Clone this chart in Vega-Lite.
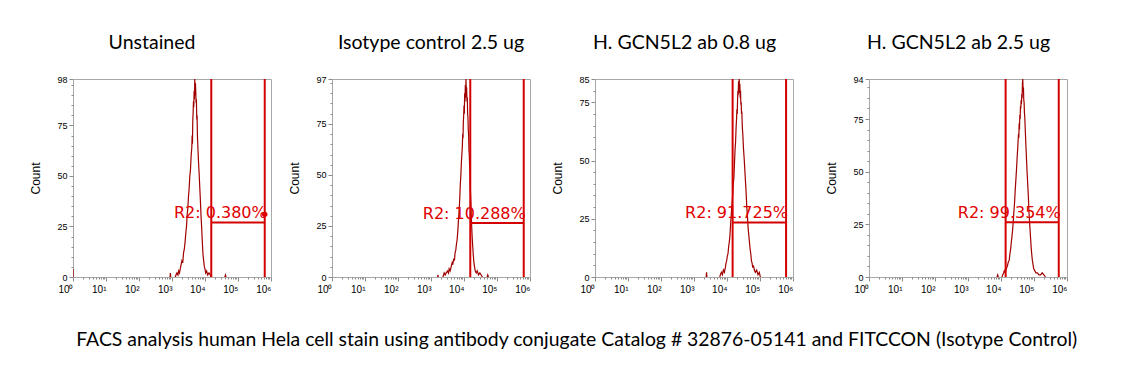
{
"$schema": "https://vega.github.io/schema/vega-lite/v6.json",
"background": "white",
"padding": {"left": 29, "top": 32, "right": 5, "bottom": 5},
"title": {"text": "FACS analysis human Hela cell stain using antibody conjugate Catalog # 32876-05141 and FITCCON (Isotype Control)", "orient": "bottom", "anchor": "middle", "font": "Lato", "fontSize": 19.4, "fontWeight": "normal", "color": "#000", "offset": 36, "dx": 28},
"datasets": {
"hist": [
{"panel":"U","seg":1,"log_fl":0,"count":0},{"panel":"U","seg":1,"log_fl":0.002,"count":4},
{"panel":"U","seg":2,"log_fl":2.94,"count":0},{"panel":"U","seg":2,"log_fl":2.95,"count":2},{"panel":"U","seg":2,"log_fl":2.96,"count":0},
{"panel":"U","seg":3,"log_fl":3.10,"count":0},{"panel":"U","seg":3,"log_fl":3.12,"count":1},{"panel":"U","seg":3,"log_fl":3.15,"count":2},{"panel":"U","seg":3,"log_fl":3.18,"count":1},{"panel":"U","seg":3,"log_fl":3.20,"count":3},{"panel":"U","seg":3,"log_fl":3.225,"count":2},{"panel":"U","seg":3,"log_fl":3.25,"count":4},{"panel":"U","seg":3,"log_fl":3.275,"count":6},{"panel":"U","seg":3,"log_fl":3.30,"count":8},{"panel":"U","seg":3,"log_fl":3.325,"count":7},{"panel":"U","seg":3,"log_fl":3.35,"count":12},{"panel":"U","seg":3,"log_fl":3.375,"count":14},{"panel":"U","seg":3,"log_fl":3.40,"count":18},{"panel":"U","seg":3,"log_fl":3.42,"count":22},{"panel":"U","seg":3,"log_fl":3.44,"count":25},{"panel":"U","seg":3,"log_fl":3.46,"count":31},{"panel":"U","seg":3,"log_fl":3.48,"count":34},{"panel":"U","seg":3,"log_fl":3.50,"count":40},{"panel":"U","seg":3,"log_fl":3.52,"count":44},{"panel":"U","seg":3,"log_fl":3.54,"count":50},{"panel":"U","seg":3,"log_fl":3.56,"count":53},{"panel":"U","seg":3,"log_fl":3.58,"count":60},{"panel":"U","seg":3,"log_fl":3.60,"count":64},{"panel":"U","seg":3,"log_fl":3.61,"count":70},{"panel":"U","seg":3,"log_fl":3.62,"count":66},{"panel":"U","seg":3,"log_fl":3.63,"count":78},{"panel":"U","seg":3,"log_fl":3.64,"count":81},{"panel":"U","seg":3,"log_fl":3.65,"count":87},{"panel":"U","seg":3,"log_fl":3.66,"count":84},{"panel":"U","seg":3,"log_fl":3.67,"count":92},{"panel":"U","seg":3,"log_fl":3.68,"count":88},{"panel":"U","seg":3,"log_fl":3.69,"count":98},{"panel":"U","seg":3,"log_fl":3.70,"count":90},{"panel":"U","seg":3,"log_fl":3.71,"count":96},{"panel":"U","seg":3,"log_fl":3.72,"count":92},{"panel":"U","seg":3,"log_fl":3.73,"count":86},{"panel":"U","seg":3,"log_fl":3.74,"count":88},{"panel":"U","seg":3,"log_fl":3.75,"count":78},{"panel":"U","seg":3,"log_fl":3.76,"count":80},{"panel":"U","seg":3,"log_fl":3.77,"count":70},{"panel":"U","seg":3,"log_fl":3.78,"count":66},{"panel":"U","seg":3,"log_fl":3.79,"count":62},{"panel":"U","seg":3,"log_fl":3.80,"count":58},{"panel":"U","seg":3,"log_fl":3.82,"count":52},{"panel":"U","seg":3,"log_fl":3.84,"count":45},{"panel":"U","seg":3,"log_fl":3.86,"count":38},{"panel":"U","seg":3,"log_fl":3.88,"count":30},{"panel":"U","seg":3,"log_fl":3.90,"count":24},{"panel":"U","seg":3,"log_fl":3.92,"count":17},{"panel":"U","seg":3,"log_fl":3.94,"count":11},{"panel":"U","seg":3,"log_fl":3.96,"count":8},{"panel":"U","seg":3,"log_fl":3.98,"count":5},{"panel":"U","seg":3,"log_fl":4.00,"count":4},{"panel":"U","seg":3,"log_fl":4.02,"count":2},{"panel":"U","seg":3,"log_fl":4.05,"count":3},{"panel":"U","seg":3,"log_fl":4.08,"count":1},{"panel":"U","seg":3,"log_fl":4.12,"count":2},{"panel":"U","seg":3,"log_fl":4.16,"count":1},{"panel":"U","seg":3,"log_fl":4.18,"count":0},
{"panel":"U","seg":4,"log_fl":4.60,"count":0},{"panel":"U","seg":4,"log_fl":4.62,"count":1},{"panel":"U","seg":4,"log_fl":4.64,"count":0},

{"panel":"I","seg":1,"log_fl":3.20,"count":0},{"panel":"I","seg":1,"log_fl":3.21,"count":1},{"panel":"I","seg":1,"log_fl":3.22,"count":0},
{"panel":"I","seg":2,"log_fl":3.36,"count":0},{"panel":"I","seg":2,"log_fl":3.38,"count":1},{"panel":"I","seg":2,"log_fl":3.40,"count":2},{"panel":"I","seg":2,"log_fl":3.43,"count":1},{"panel":"I","seg":2,"log_fl":3.46,"count":2},{"panel":"I","seg":2,"log_fl":3.50,"count":3},{"panel":"I","seg":2,"log_fl":3.53,"count":2},{"panel":"I","seg":2,"log_fl":3.55,"count":4},{"panel":"I","seg":2,"log_fl":3.58,"count":3},{"panel":"I","seg":2,"log_fl":3.61,"count":5},{"panel":"I","seg":2,"log_fl":3.64,"count":7},{"panel":"I","seg":2,"log_fl":3.66,"count":6},{"panel":"I","seg":2,"log_fl":3.69,"count":9},{"panel":"I","seg":2,"log_fl":3.71,"count":8},{"panel":"I","seg":2,"log_fl":3.73,"count":12},{"panel":"I","seg":2,"log_fl":3.75,"count":13},{"panel":"I","seg":2,"log_fl":3.77,"count":16},{"panel":"I","seg":2,"log_fl":3.79,"count":18},{"panel":"I","seg":2,"log_fl":3.81,"count":22},{"panel":"I","seg":2,"log_fl":3.83,"count":27},{"panel":"I","seg":2,"log_fl":3.85,"count":32},{"panel":"I","seg":2,"log_fl":3.87,"count":38},{"panel":"I","seg":2,"log_fl":3.89,"count":46},{"panel":"I","seg":2,"log_fl":3.905,"count":50},{"panel":"I","seg":2,"log_fl":3.92,"count":56},{"panel":"I","seg":2,"log_fl":3.935,"count":60},{"panel":"I","seg":2,"log_fl":3.95,"count":64},{"panel":"I","seg":2,"log_fl":3.96,"count":70},{"panel":"I","seg":2,"log_fl":3.97,"count":68},{"panel":"I","seg":2,"log_fl":3.98,"count":76},{"panel":"I","seg":2,"log_fl":3.99,"count":79},{"panel":"I","seg":2,"log_fl":4.00,"count":84},{"panel":"I","seg":2,"log_fl":4.01,"count":80},{"panel":"I","seg":2,"log_fl":4.02,"count":90},{"panel":"I","seg":2,"log_fl":4.03,"count":86},{"panel":"I","seg":2,"log_fl":4.04,"count":94},{"panel":"I","seg":2,"log_fl":4.05,"count":88},{"panel":"I","seg":2,"log_fl":4.06,"count":97},{"panel":"I","seg":2,"log_fl":4.07,"count":90},{"panel":"I","seg":2,"log_fl":4.08,"count":93},{"panel":"I","seg":2,"log_fl":4.09,"count":86},{"panel":"I","seg":2,"log_fl":4.10,"count":88},{"panel":"I","seg":2,"log_fl":4.11,"count":80},{"panel":"I","seg":2,"log_fl":4.12,"count":78},{"panel":"I","seg":2,"log_fl":4.13,"count":72},{"panel":"I","seg":2,"log_fl":4.14,"count":70},{"panel":"I","seg":2,"log_fl":4.15,"count":62},{"panel":"I","seg":2,"log_fl":4.16,"count":60},{"panel":"I","seg":2,"log_fl":4.17,"count":54},{"panel":"I","seg":2,"log_fl":4.18,"count":52},{"panel":"I","seg":2,"log_fl":4.19,"count":44},{"panel":"I","seg":2,"log_fl":4.20,"count":40},{"panel":"I","seg":2,"log_fl":4.21,"count":36},{"panel":"I","seg":2,"log_fl":4.22,"count":30},{"panel":"I","seg":2,"log_fl":4.23,"count":26},{"panel":"I","seg":2,"log_fl":4.24,"count":22},{"panel":"I","seg":2,"log_fl":4.25,"count":19},{"panel":"I","seg":2,"log_fl":4.26,"count":16},{"panel":"I","seg":2,"log_fl":4.28,"count":11},{"panel":"I","seg":2,"log_fl":4.30,"count":7},{"panel":"I","seg":2,"log_fl":4.32,"count":5},{"panel":"I","seg":2,"log_fl":4.34,"count":3},{"panel":"I","seg":2,"log_fl":4.37,"count":2},{"panel":"I","seg":2,"log_fl":4.40,"count":3},{"panel":"I","seg":2,"log_fl":4.44,"count":1},{"panel":"I","seg":2,"log_fl":4.48,"count":2},{"panel":"I","seg":2,"log_fl":4.52,"count":1},{"panel":"I","seg":2,"log_fl":4.56,"count":0},
{"panel":"I","seg":3,"log_fl":4.70,"count":0},{"panel":"I","seg":3,"log_fl":4.72,"count":1},{"panel":"I","seg":3,"log_fl":4.74,"count":0},

{"panel":"A","seg":1,"log_fl":3.37,"count":0},{"panel":"A","seg":1,"log_fl":3.38,"count":2},{"panel":"A","seg":1,"log_fl":3.39,"count":0},
{"panel":"A","seg":2,"log_fl":3.78,"count":0},{"panel":"A","seg":2,"log_fl":3.80,"count":1},{"panel":"A","seg":2,"log_fl":3.83,"count":2},{"panel":"A","seg":2,"log_fl":3.86,"count":1},{"panel":"A","seg":2,"log_fl":3.89,"count":3},{"panel":"A","seg":2,"log_fl":3.92,"count":2},{"panel":"A","seg":2,"log_fl":3.95,"count":4},{"panel":"A","seg":2,"log_fl":3.97,"count":6},{"panel":"A","seg":2,"log_fl":3.99,"count":7},{"panel":"A","seg":2,"log_fl":4.01,"count":9},{"panel":"A","seg":2,"log_fl":4.03,"count":10},{"panel":"A","seg":2,"log_fl":4.05,"count":13},{"panel":"A","seg":2,"log_fl":4.07,"count":15},{"panel":"A","seg":2,"log_fl":4.09,"count":18},{"panel":"A","seg":2,"log_fl":4.11,"count":23},{"panel":"A","seg":2,"log_fl":4.13,"count":27},{"panel":"A","seg":2,"log_fl":4.15,"count":31},{"panel":"A","seg":2,"log_fl":4.17,"count":35},{"panel":"A","seg":2,"log_fl":4.19,"count":40},{"panel":"A","seg":2,"log_fl":4.21,"count":43},{"panel":"A","seg":2,"log_fl":4.23,"count":50},{"panel":"A","seg":2,"log_fl":4.245,"count":55},{"panel":"A","seg":2,"log_fl":4.26,"count":58},{"panel":"A","seg":2,"log_fl":4.275,"count":64},{"panel":"A","seg":2,"log_fl":4.29,"count":68},{"panel":"A","seg":2,"log_fl":4.30,"count":72},{"panel":"A","seg":2,"log_fl":4.31,"count":70},{"panel":"A","seg":2,"log_fl":4.32,"count":76},{"panel":"A","seg":2,"log_fl":4.33,"count":80},{"panel":"A","seg":2,"log_fl":4.34,"count":78},{"panel":"A","seg":2,"log_fl":4.35,"count":84},{"panel":"A","seg":2,"log_fl":4.36,"count":80},{"panel":"A","seg":2,"log_fl":4.37,"count":85},{"panel":"A","seg":2,"log_fl":4.38,"count":79},{"panel":"A","seg":2,"log_fl":4.39,"count":83},{"panel":"A","seg":2,"log_fl":4.40,"count":77},{"panel":"A","seg":2,"log_fl":4.41,"count":80},{"panel":"A","seg":2,"log_fl":4.42,"count":74},{"panel":"A","seg":2,"log_fl":4.43,"count":75},{"panel":"A","seg":2,"log_fl":4.44,"count":70},{"panel":"A","seg":2,"log_fl":4.45,"count":71},{"panel":"A","seg":2,"log_fl":4.46,"count":66},{"panel":"A","seg":2,"log_fl":4.47,"count":63},{"panel":"A","seg":2,"log_fl":4.48,"count":61},{"panel":"A","seg":2,"log_fl":4.49,"count":58},{"panel":"A","seg":2,"log_fl":4.50,"count":55},{"panel":"A","seg":2,"log_fl":4.52,"count":51},{"panel":"A","seg":2,"log_fl":4.54,"count":46},{"panel":"A","seg":2,"log_fl":4.56,"count":41},{"panel":"A","seg":2,"log_fl":4.58,"count":36},{"panel":"A","seg":2,"log_fl":4.60,"count":30},{"panel":"A","seg":2,"log_fl":4.62,"count":26},{"panel":"A","seg":2,"log_fl":4.64,"count":21},{"panel":"A","seg":2,"log_fl":4.66,"count":18},{"panel":"A","seg":2,"log_fl":4.68,"count":15},{"panel":"A","seg":2,"log_fl":4.70,"count":12},{"panel":"A","seg":2,"log_fl":4.72,"count":10},{"panel":"A","seg":2,"log_fl":4.74,"count":7},{"panel":"A","seg":2,"log_fl":4.76,"count":6},{"panel":"A","seg":2,"log_fl":4.78,"count":4},{"panel":"A","seg":2,"log_fl":4.80,"count":5},{"panel":"A","seg":2,"log_fl":4.83,"count":3},{"panel":"A","seg":2,"log_fl":4.86,"count":2},{"panel":"A","seg":2,"log_fl":4.90,"count":3},{"panel":"A","seg":2,"log_fl":4.94,"count":1},{"panel":"A","seg":2,"log_fl":4.98,"count":2},{"panel":"A","seg":2,"log_fl":5.01,"count":0},

{"panel":"B","seg":1,"log_fl":3.88,"count":0},{"panel":"B","seg":1,"log_fl":3.90,"count":1},{"panel":"B","seg":1,"log_fl":3.92,"count":0},
{"panel":"B","seg":2,"log_fl":4.03,"count":0},{"panel":"B","seg":2,"log_fl":4.05,"count":1},{"panel":"B","seg":2,"log_fl":4.08,"count":2},{"panel":"B","seg":2,"log_fl":4.10,"count":3},{"panel":"B","seg":2,"log_fl":4.13,"count":2},{"panel":"B","seg":2,"log_fl":4.16,"count":4},{"panel":"B","seg":2,"log_fl":4.19,"count":5},{"panel":"B","seg":2,"log_fl":4.22,"count":7},{"panel":"B","seg":2,"log_fl":4.25,"count":8},{"panel":"B","seg":2,"log_fl":4.27,"count":11},{"panel":"B","seg":2,"log_fl":4.29,"count":13},{"panel":"B","seg":2,"log_fl":4.31,"count":16},{"panel":"B","seg":2,"log_fl":4.33,"count":19},{"panel":"B","seg":2,"log_fl":4.35,"count":22},{"panel":"B","seg":2,"log_fl":4.37,"count":26},{"panel":"B","seg":2,"log_fl":4.39,"count":31},{"panel":"B","seg":2,"log_fl":4.41,"count":35},{"panel":"B","seg":2,"log_fl":4.43,"count":41},{"panel":"B","seg":2,"log_fl":4.45,"count":46},{"panel":"B","seg":2,"log_fl":4.47,"count":51},{"panel":"B","seg":2,"log_fl":4.49,"count":57},{"panel":"B","seg":2,"log_fl":4.51,"count":62},{"panel":"B","seg":2,"log_fl":4.53,"count":68},{"panel":"B","seg":2,"log_fl":4.54,"count":66},{"panel":"B","seg":2,"log_fl":4.55,"count":73},{"panel":"B","seg":2,"log_fl":4.56,"count":70},{"panel":"B","seg":2,"log_fl":4.57,"count":77},{"panel":"B","seg":2,"log_fl":4.58,"count":75},{"panel":"B","seg":2,"log_fl":4.59,"count":81},{"panel":"B","seg":2,"log_fl":4.60,"count":80},{"panel":"B","seg":2,"log_fl":4.61,"count":84},{"panel":"B","seg":2,"log_fl":4.62,"count":82},{"panel":"B","seg":2,"log_fl":4.63,"count":87},{"panel":"B","seg":2,"log_fl":4.64,"count":85},{"panel":"B","seg":2,"log_fl":4.65,"count":92},{"panel":"B","seg":2,"log_fl":4.66,"count":94},{"panel":"B","seg":2,"log_fl":4.67,"count":88},{"panel":"B","seg":2,"log_fl":4.68,"count":90},{"panel":"B","seg":2,"log_fl":4.69,"count":84},{"panel":"B","seg":2,"log_fl":4.70,"count":83},{"panel":"B","seg":2,"log_fl":4.71,"count":78},{"panel":"B","seg":2,"log_fl":4.72,"count":76},{"panel":"B","seg":2,"log_fl":4.73,"count":72},{"panel":"B","seg":2,"log_fl":4.74,"count":68},{"panel":"B","seg":2,"log_fl":4.75,"count":64},{"panel":"B","seg":2,"log_fl":4.77,"count":57},{"panel":"B","seg":2,"log_fl":4.79,"count":50},{"panel":"B","seg":2,"log_fl":4.81,"count":44},{"panel":"B","seg":2,"log_fl":4.83,"count":38},{"panel":"B","seg":2,"log_fl":4.85,"count":30},{"panel":"B","seg":2,"log_fl":4.87,"count":25},{"panel":"B","seg":2,"log_fl":4.89,"count":20},{"panel":"B","seg":2,"log_fl":4.91,"count":15},{"panel":"B","seg":2,"log_fl":4.93,"count":11},{"panel":"B","seg":2,"log_fl":4.95,"count":8},{"panel":"B","seg":2,"log_fl":4.97,"count":6},{"panel":"B","seg":2,"log_fl":4.99,"count":4},{"panel":"B","seg":2,"log_fl":5.02,"count":3},{"panel":"B","seg":2,"log_fl":5.06,"count":2},{"panel":"B","seg":2,"log_fl":5.10,"count":2},{"panel":"B","seg":2,"log_fl":5.15,"count":1},{"panel":"B","seg":2,"log_fl":5.20,"count":1},{"panel":"B","seg":2,"log_fl":5.25,"count":2},{"panel":"B","seg":2,"log_fl":5.30,"count":1},{"panel":"B","seg":2,"log_fl":5.35,"count":0}
],
"gates": [
{"panel":"U","lo":4.19,"hi":5.81,"h":27,"label":"R2: 0.380%","dot":31},
{"panel":"I","lo":4.19,"hi":5.81,"h":26.5,"label":"R2: 10.288%"},
{"panel":"A","lo":4.17,"hi":5.79,"h":23.4,"label":"R2: 91.725%"},
{"panel":"B","lo":4.14,"hi":5.75,"h":26,"label":"R2: 99.354%"}
]
},
"spacing": 20,
"hconcat": [
{"spacing": 16, "hconcat": [
{"width": 198, "height": 198, "title": {"text": "Unstained", "dx": -20},
 "resolve": {"axis": {"x": "independent", "y": "independent"}},
 "layer": [
  {"data": {"name": "hist"}, "transform": [{"filter": "datum.panel == 'U'"}],
   "mark": {"type": "line", "color": "#a00000", "strokeWidth": 1.2, "clip": true},
   "encoding": {
    "x": {"field": "log_fl", "type": "quantitative", "scale": {"domain": [0, 6], "nice": false, "zero": false},
     "axis": {"title": null, "values": [0,0.301,0.477,0.602,0.699,0.778,0.845,0.903,0.954,1,1.301,1.477,1.602,1.699,1.778,1.845,1.903,1.954,2,2.301,2.477,2.602,2.699,2.778,2.845,2.903,2.954,3,3.301,3.477,3.602,3.699,3.778,3.845,3.903,3.954,4,4.301,4.477,4.602,4.699,4.778,4.845,4.903,4.954,5,5.301,5.477,5.602,5.699,5.778,5.845,5.903,5.954,6],
      "labelExpr": "datum.value == floor(datum.value) ? '10' + ['⁰','¹','²','³','⁴','⁵','⁶'][datum.value] : ''", "labelAlign": "right", "labelDx": 3, "labelPadding": 3, "labelFlush": false, "labelOverlap": false, "labelBound": false, "labelFontSize": 10,
      "tickSize": {"condition": {"test": "datum.value == floor(datum.value)", "value": 4}, "value": 2}}},
    "y": {"field": "count", "type": "quantitative", "scale": {"domain": [0, 98], "nice": false},
     "axis": {"title": "Count", "values": [0,5,10,15,20,25,30,35,40,45,50,55,60,65,70,75,80,85,90,95,98], "labelExpr": "datum.value % 25 == 0 || datum.value == 98 ? datum.label : ''", "labelOverlap": false, "labelFlush": false, "labelBound": false, "titlePadding": 14,
      "tickSize": {"condition": {"test": "datum.value % 25 == 0 || datum.value == 98", "value": 4}, "value": 2}}},
    "detail": {"field": "seg", "type": "nominal"}}},
  {"data": {"name": "gates"}, "transform": [{"filter": "datum.panel == 'U'"}, {"fold": ["lo", "hi"], "as": ["edge", "pos"]}], "mark": {"type": "rule", "color": "#d40000", "strokeWidth": 2}, "encoding": {"x": {"field": "pos", "type": "quantitative", "axis": null}}},
  {"data": {"name": "gates"}, "transform": [{"filter": "datum.panel == 'U'"}], "mark": {"type": "rule", "color": "#d40000", "strokeWidth": 2}, "encoding": {"x": {"field": "lo", "type": "quantitative", "axis": null}, "x2": {"field": "hi"}, "y": {"field": "h", "type": "quantitative", "axis": null}}},
  {"data": {"name": "gates"}, "transform": [{"filter": "datum.panel == 'U'"}], "mark": {"type": "text", "color": "#e00000", "font": "DejaVu Sans", "fontSize": 16, "align": "right", "baseline": "alphabetic", "dx": 2, "dy": -4}, "encoding": {"x": {"field": "hi", "type": "quantitative", "axis": null}, "y": {"field": "h", "type": "quantitative", "axis": null}, "text": {"field": "label"}}},
  {"data": {"name": "gates"}, "transform": [{"filter": "datum.panel == 'U'"}], "mark": {"type": "point", "filled": true, "color": "#e00000", "size": 30, "opacity": 1}, "encoding": {"x": {"field": "hi", "type": "quantitative", "axis": null}, "y": {"field": "dot", "type": "quantitative", "axis": null}}}
 ]},
{"width": 198, "height": 198, "title": {"text": "Isotype control 2.5 ug", "dx": 0},
 "resolve": {"axis": {"x": "independent", "y": "independent"}},
 "layer": [
  {"data": {"name": "hist"}, "transform": [{"filter": "datum.panel == 'I'"}],
   "mark": {"type": "line", "color": "#a00000", "strokeWidth": 1.2, "clip": true},
   "encoding": {
    "x": {"field": "log_fl", "type": "quantitative", "scale": {"domain": [0, 6], "nice": false, "zero": false},
     "axis": {"title": null, "values": [0,0.301,0.477,0.602,0.699,0.778,0.845,0.903,0.954,1,1.301,1.477,1.602,1.699,1.778,1.845,1.903,1.954,2,2.301,2.477,2.602,2.699,2.778,2.845,2.903,2.954,3,3.301,3.477,3.602,3.699,3.778,3.845,3.903,3.954,4,4.301,4.477,4.602,4.699,4.778,4.845,4.903,4.954,5,5.301,5.477,5.602,5.699,5.778,5.845,5.903,5.954,6],
      "labelExpr": "datum.value == floor(datum.value) ? '10' + ['⁰','¹','²','³','⁴','⁵','⁶'][datum.value] : ''", "labelAlign": "right", "labelDx": 3, "labelPadding": 3, "labelFlush": false, "labelOverlap": false, "labelBound": false, "labelFontSize": 10,
      "tickSize": {"condition": {"test": "datum.value == floor(datum.value)", "value": 4}, "value": 2}}},
    "y": {"field": "count", "type": "quantitative", "scale": {"domain": [0, 97], "nice": false},
     "axis": {"title": "Count", "values": [0,5,10,15,20,25,30,35,40,45,50,55,60,65,70,75,80,85,90,95,97], "labelExpr": "datum.value % 25 == 0 || datum.value == 97 ? datum.label : ''", "labelOverlap": false, "labelFlush": false, "labelBound": false, "titlePadding": 14,
      "tickSize": {"condition": {"test": "datum.value % 25 == 0 || datum.value == 97", "value": 4}, "value": 2}}},
    "detail": {"field": "seg", "type": "nominal"}}},
  {"data": {"name": "gates"}, "transform": [{"filter": "datum.panel == 'I'"}, {"fold": ["lo", "hi"], "as": ["edge", "pos"]}], "mark": {"type": "rule", "color": "#d40000", "strokeWidth": 2}, "encoding": {"x": {"field": "pos", "type": "quantitative", "axis": null}}},
  {"data": {"name": "gates"}, "transform": [{"filter": "datum.panel == 'I'"}], "mark": {"type": "rule", "color": "#d40000", "strokeWidth": 2}, "encoding": {"x": {"field": "lo", "type": "quantitative", "axis": null}, "x2": {"field": "hi"}, "y": {"field": "h", "type": "quantitative", "axis": null}}},
  {"data": {"name": "gates"}, "transform": [{"filter": "datum.panel == 'I'"}], "mark": {"type": "text", "color": "#e00000", "font": "DejaVu Sans", "fontSize": 16, "align": "right", "baseline": "alphabetic", "dx": 2, "dy": -4}, "encoding": {"x": {"field": "hi", "type": "quantitative", "axis": null}, "y": {"field": "h", "type": "quantitative", "axis": null}, "text": {"field": "label"}}}
 ]}
]},
{"spacing": 31, "hconcat": [
{"width": 198, "height": 198, "title": {"text": "H. GCN5L2 ab 0.8 ug", "dx": -9.5},
 "resolve": {"axis": {"x": "independent", "y": "independent"}},
 "layer": [
  {"data": {"name": "hist"}, "transform": [{"filter": "datum.panel == 'A'"}],
   "mark": {"type": "line", "color": "#a00000", "strokeWidth": 1.2, "clip": true},
   "encoding": {
    "x": {"field": "log_fl", "type": "quantitative", "scale": {"domain": [0, 6], "nice": false, "zero": false},
     "axis": {"title": null, "values": [0,0.301,0.477,0.602,0.699,0.778,0.845,0.903,0.954,1,1.301,1.477,1.602,1.699,1.778,1.845,1.903,1.954,2,2.301,2.477,2.602,2.699,2.778,2.845,2.903,2.954,3,3.301,3.477,3.602,3.699,3.778,3.845,3.903,3.954,4,4.301,4.477,4.602,4.699,4.778,4.845,4.903,4.954,5,5.301,5.477,5.602,5.699,5.778,5.845,5.903,5.954,6],
      "labelExpr": "datum.value == floor(datum.value) ? '10' + ['⁰','¹','²','³','⁴','⁵','⁶'][datum.value] : ''", "labelAlign": "right", "labelDx": 3, "labelPadding": 3, "labelFlush": false, "labelOverlap": false, "labelBound": false, "labelFontSize": 10,
      "tickSize": {"condition": {"test": "datum.value == floor(datum.value)", "value": 4}, "value": 2}}},
    "y": {"field": "count", "type": "quantitative", "scale": {"domain": [0, 85], "nice": false},
     "axis": {"title": "Count", "values": [0,5,10,15,20,25,30,35,40,45,50,55,60,65,70,75,80,85], "labelExpr": "datum.value % 25 == 0 || datum.value == 85 ? datum.label : ''", "labelOverlap": false, "labelFlush": false, "labelBound": false, "titlePadding": 14,
      "tickSize": {"condition": {"test": "datum.value % 25 == 0 || datum.value == 85", "value": 4}, "value": 2}}},
    "detail": {"field": "seg", "type": "nominal"}}},
  {"data": {"name": "gates"}, "transform": [{"filter": "datum.panel == 'A'"}, {"fold": ["lo", "hi"], "as": ["edge", "pos"]}], "mark": {"type": "rule", "color": "#d40000", "strokeWidth": 2}, "encoding": {"x": {"field": "pos", "type": "quantitative", "axis": null}}},
  {"data": {"name": "gates"}, "transform": [{"filter": "datum.panel == 'A'"}], "mark": {"type": "rule", "color": "#d40000", "strokeWidth": 2}, "encoding": {"x": {"field": "lo", "type": "quantitative", "axis": null}, "x2": {"field": "hi"}, "y": {"field": "h", "type": "quantitative", "axis": null}}},
  {"data": {"name": "gates"}, "transform": [{"filter": "datum.panel == 'A'"}], "mark": {"type": "text", "color": "#e00000", "font": "DejaVu Sans", "fontSize": 16, "align": "right", "baseline": "alphabetic", "dx": 2, "dy": -4}, "encoding": {"x": {"field": "hi", "type": "quantitative", "axis": null}, "y": {"field": "h", "type": "quantitative", "axis": null}, "text": {"field": "label"}}}
 ]},
{"width": 198, "height": 198, "title": {"text": "H. GCN5L2 ab 2.5 ug", "dx": -9.5},
 "resolve": {"axis": {"x": "independent", "y": "independent"}},
 "layer": [
  {"data": {"name": "hist"}, "transform": [{"filter": "datum.panel == 'B'"}],
   "mark": {"type": "line", "color": "#a00000", "strokeWidth": 1.2, "clip": true},
   "encoding": {
    "x": {"field": "log_fl", "type": "quantitative", "scale": {"domain": [0, 6], "nice": false, "zero": false},
     "axis": {"title": null, "values": [0,0.301,0.477,0.602,0.699,0.778,0.845,0.903,0.954,1,1.301,1.477,1.602,1.699,1.778,1.845,1.903,1.954,2,2.301,2.477,2.602,2.699,2.778,2.845,2.903,2.954,3,3.301,3.477,3.602,3.699,3.778,3.845,3.903,3.954,4,4.301,4.477,4.602,4.699,4.778,4.845,4.903,4.954,5,5.301,5.477,5.602,5.699,5.778,5.845,5.903,5.954,6],
      "labelExpr": "datum.value == floor(datum.value) ? '10' + ['⁰','¹','²','³','⁴','⁵','⁶'][datum.value] : ''", "labelAlign": "right", "labelDx": 3, "labelPadding": 3, "labelFlush": false, "labelOverlap": false, "labelBound": false, "labelFontSize": 10,
      "tickSize": {"condition": {"test": "datum.value == floor(datum.value)", "value": 4}, "value": 2}}},
    "y": {"field": "count", "type": "quantitative", "scale": {"domain": [0, 94], "nice": false},
     "axis": {"title": "Count", "values": [0,5,10,15,20,25,30,35,40,45,50,55,60,65,70,75,80,85,90,94], "labelExpr": "datum.value % 25 == 0 || datum.value == 94 ? datum.label : ''", "labelOverlap": false, "labelFlush": false, "labelBound": false, "titlePadding": 14,
      "tickSize": {"condition": {"test": "datum.value % 25 == 0 || datum.value == 94", "value": 4}, "value": 2}}},
    "detail": {"field": "seg", "type": "nominal"}}},
  {"data": {"name": "gates"}, "transform": [{"filter": "datum.panel == 'B'"}, {"fold": ["lo", "hi"], "as": ["edge", "pos"]}], "mark": {"type": "rule", "color": "#d40000", "strokeWidth": 2}, "encoding": {"x": {"field": "pos", "type": "quantitative", "axis": null}}},
  {"data": {"name": "gates"}, "transform": [{"filter": "datum.panel == 'B'"}], "mark": {"type": "rule", "color": "#d40000", "strokeWidth": 2}, "encoding": {"x": {"field": "lo", "type": "quantitative", "axis": null}, "x2": {"field": "hi"}, "y": {"field": "h", "type": "quantitative", "axis": null}}},
  {"data": {"name": "gates"}, "transform": [{"filter": "datum.panel == 'B'"}], "mark": {"type": "text", "color": "#e00000", "font": "DejaVu Sans", "fontSize": 16, "align": "right", "baseline": "alphabetic", "dx": 2, "dy": -4}, "encoding": {"x": {"field": "hi", "type": "quantitative", "axis": null}, "y": {"field": "h", "type": "quantitative", "axis": null}, "text": {"field": "label"}}}
 ]}
]}
],
"config": {
 "view": {"stroke": "#a8a8a8", "strokeWidth": 1},
 "axis": {"domain": false, "grid": false, "tickColor": "#8c8c8c", "labelFont": "Liberation Sans Narrow, Liberation Sans", "labelFontSize": 9, "labelColor": "#000", "titleFont": "Liberation Sans Narrow, Liberation Sans", "titleFontSize": 12, "titleFontWeight": "normal", "titleColor": "#000", "labelPadding": 2},
 "title": {"font": "Lato", "fontSize": 19.5, "fontWeight": "normal", "color": "#000", "offset": 22, "anchor": "middle"}
}
}
